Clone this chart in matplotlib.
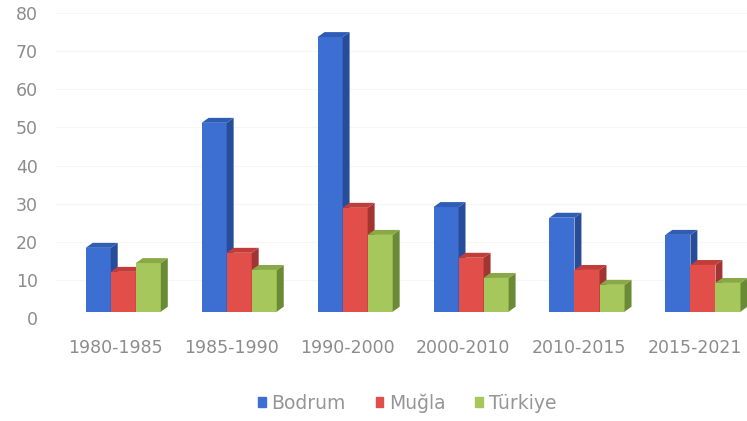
import numpy as np
import matplotlib.pyplot as plt
from matplotlib.patches import Polygon, Rectangle

periods = ["1980-1985", "1985-1990", "1990-2000", "2000-2010", "2010-2015", "2015-2021"]
bodrum = [19.7, 52.5, 75, 30.4, 27.6, 23.1]
mugla = [13.4, 18.4, 30.2, 17.1, 13.9, 15.2]
turkiye = [15.7, 13.9, 23.1, 11.8, 10.0, 10.5]
series_names = ["Bodrum", "Muğla", "Türkiye"]
y_ticks = [0, 10, 20, 30, 40, 50, 60, 70, 80]

# front, side, top colours per series
colors = [("#3d6fd3", "#274c9a", "#2f5cb5"),
          ("#e24e4a", "#a23432", "#c23d3a"),
          ("#a6c75c", "#6b8a35", "#89a846")]

fig = plt.figure(figsize=(7.47, 4.21), dpi=100)
ax = fig.add_axes([0.075, 0.2176, 0.925, 0.7514])

w = 0.216      # bar width
dx = 0.06      # depth shift in x
dy = 1.3       # depth shift in y
base = 1.65    # floor of the front faces
shift = 0.07

x = np.arange(len(periods))
for k, vals in enumerate([bodrum, mugla, turkiye]):
    front, side, top = colors[k]
    xs = x + shift + (k - 1) * w
    vals = np.array(vals)
    # front face through the bar api, back edge of the top sits at the value
    ax.bar(xs, vals - dy - base, width=w, bottom=base, color=front, linewidth=0,
           label=series_names[k], zorder=3 + k)
    for xi, v in zip(xs, vals):
        x0, x1 = xi - w / 2, xi + w / 2
        ax.add_patch(Polygon([(x1, base), (x1 + dx, base + dy), (x1 + dx, v), (x1, v - dy)],
                             closed=True, facecolor=side, linewidth=0, zorder=3 + k))
        ax.add_patch(Polygon([(x0, v - dy), (x0 + dx, v), (x1 + dx, v), (x1, v - dy)],
                             closed=True, facecolor=top, linewidth=0, zorder=3 + k))

ax.set_xlim(-0.51, 5.45)
ax.set_ylim(-3, 80)
ax.set_yticks(y_ticks)
ax.set_xticks(x)
ax.set_xticklabels(periods)
for y in y_ticks[1:]:
    ax.axhline(y, color="#f6f6f6", linewidth=0.8, zorder=0)

for s in ax.spines.values():
    s.set_visible(False)
ax.tick_params(length=0, colors="#8c8c8c", labelsize=12.5)
ax.tick_params(axis="y", pad=13)
ax.tick_params(axis="x", pad=7)

handles = [Rectangle((0, 0), 1, 1, color=c[0]) for c in colors]
leg = fig.legend(handles, series_names, loc="center", bbox_to_anchor=(0.545, 0.043),
                 ncol=3, frameon=False, fontsize=13.5, handlelength=0.4, handleheight=0.4,
                 handletextpad=0.3, columnspacing=1.6)
for t in leg.get_texts():
    t.set_color("#959595")

fig.savefig("out.png", dpi=100)
